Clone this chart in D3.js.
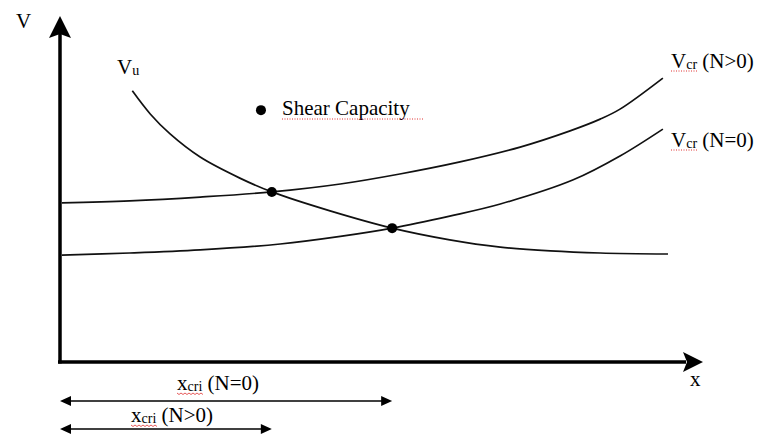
<!DOCTYPE html>
<html>
<head>
<meta charset="utf-8">
<script src="https://cdn.jsdelivr.net/npm/d3@7"></script>
<style>
  body { margin: 0; background: #fff; }
  text { font-family: "Liberation Serif", "Times New Roman", serif; fill: #000; }
</style>
</head>
<body>
<div class="chart"></div>
<script>
// values (abstract units: x 0..10, V 0..10)
var vcrPos = [[0.03,4.61],[1.09,4.67],[2.19,4.78],[3.31,4.93],[4.38,5.16],[5.31,5.45],[6.25,5.80],[7.19,6.23],[7.97,6.70],[8.44,7.04],[8.75,7.33],[9.42,8.23]];
var vcrZero = [[0.03,3.10],[1.09,3.16],[2.19,3.25],[3.44,3.42],[4.38,3.64],[5.19,3.88],[6.09,4.23],[6.88,4.58],[8.02,5.28],[8.75,5.97],[9.42,6.75]];
var vu = [[1.13,7.86],[1.41,7.19],[1.72,6.61],[2.19,5.94],[2.81,5.33],[3.31,4.93],[4.22,4.38],[5.19,3.88],[6.09,3.54],[6.88,3.33],[7.66,3.22],[8.44,3.16],[9.5,3.13]];
var crossings = [[3.31,4.93],[5.19,3.88]];
var legendDot = [3.14,7.30];
var xcriLabels = ["(N>0)", "(N=0)"];

var svgWidth = 765;
var svgHeight = 437;

var svg = d3.select(".chart")
  .append("svg")
  .attr("width", svgWidth)
  .attr("height", svgHeight);

var xScale = d3.scaleLinear().domain([0, 10]).range([60, 700]);
var yScale = d3.scaleLinear().domain([0, 10]).range([362, 17]);

var line = d3.line()
  .x(d => xScale(d[0]))
  .y(d => yScale(d[1]))
  .curve(d3.curveCatmullRom.alpha(0.5));

// axes with arrowheads
var x0 = xScale(0), y0 = yScale(0);
svg.append("line")
  .attr("x1", x0).attr("y1", y0 + 1.5)
  .attr("x2", x0).attr("y2", 34)
  .attr("stroke", "#000").attr("stroke-width", 3.5);
svg.append("path")
  .attr("d", `M${x0},16 L${x0 + 11},38 L${x0},34 L${x0 - 11},38 Z`)
  .attr("fill", "#000");

svg.append("line")
  .attr("x1", x0 - 2).attr("y1", y0)
  .attr("x2", 686).attr("y2", y0)
  .attr("stroke", "#000").attr("stroke-width", 3.5);
svg.append("path")
  .attr("d", `M703,${y0} L683,${y0 - 10} L687,${y0} L683,${y0 + 10} Z`)
  .attr("fill", "#000");

// curves
[vcrPos, vcrZero, vu].forEach(function(s) {
  svg.append("path")
    .datum(s)
    .attr("d", line)
    .attr("fill", "none")
    .attr("stroke", "#111")
    .attr("stroke-width", 1.7);
});

svg.selectAll("circle.cross")
  .data(crossings)
  .enter()
  .append("circle")
  .attr("class", "cross")
  .attr("cx", d => xScale(d[0]))
  .attr("cy", d => yScale(d[1]))
  .attr("r", 5)
  .attr("fill", "#000");

svg.append("circle")
  .attr("cx", xScale(legendDot[0]))
  .attr("cy", yScale(legendDot[1]))
  .attr("r", 5)
  .attr("fill", "#000");

// labels
function label(x, y, main, sub, rest) {
  var t = svg.append("text").attr("x", x).attr("y", y).style("font-size", "21px");
  t.append("tspan").text(main);
  if (sub) t.append("tspan").attr("dy", 1).style("font-size", "14px").text(sub);
  if (rest) t.append("tspan").attr("dy", sub ? -1 : 0).text(rest);
  return t;
}

label(16, 28, "V");
label(690, 386, "x");
label(117, 74, "V", "u");
label(671, 68, "V", "cr", " (N>0)");
label(671, 147, "V", "cr", " (N=0)");
label(282, 115, "Shear Capacity");

// dimension arrows for x_cri
var dims = [[crossings[0][0], 429, 131, 422], [crossings[1][0], 401, 177, 390]];
dims.forEach(function(d, i) {
  var xa = xScale(0), xb = xScale(d[0]), y = d[1];
  svg.append("line")
    .attr("x1", xa + 6).attr("y1", y)
    .attr("x2", xb - 6).attr("y2", y)
    .attr("stroke", "#000").attr("stroke-width", 1.6);
  svg.append("path")
    .attr("d", `M${xa},${y} L${xa + 11},${y - 5} L${xa + 11},${y + 5} Z M${xb},${y} L${xb - 11},${y - 5} L${xb - 11},${y + 5} Z`)
    .attr("fill", "#000");
  label(d[2], d[3], "x", "cri", " " + xcriLabels[i]);
  // spell-check squiggle
  svg.append("path")
    .attr("d", d3.range(0, 28, 2).map((k, j) => (j ? "L" : "M") + (d[2] + k) + "," + (d[3] + 3 + (j % 2 ? 1.5 : 0))).join(""))
    .attr("fill", "none").attr("stroke", "#e03030").attr("stroke-width", 0.8);
});

// red dotted spell-check underlines
[[282, 424, 119], [671, 698, 71], [671, 698, 150]].forEach(function(u) {
  svg.append("line")
    .attr("x1", u[0]).attr("x2", u[1]).attr("y1", u[2]).attr("y2", u[2])
    .attr("stroke", "#e03030").attr("stroke-width", 1)
    .attr("stroke-dasharray", "1,1.5");
});
</script>
</body>
</html>
